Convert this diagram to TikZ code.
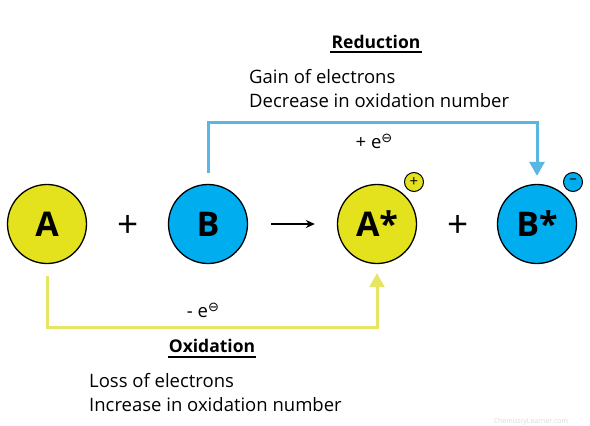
\documentclass[tikz,border=0pt]{standalone}
\usepackage{fontspec}
\setmainfont{Open Sans}
\newfontfamily\symfont{DejaVu Sans}
\usetikzlibrary{arrows.meta}
\definecolor{molyellow}{RGB}{228,226,28}
\definecolor{molblue}{RGB}{0,174,239}
\definecolor{redcolor}{RGB}{90,182,226}
\definecolor{oxcolor}{RGB}{230,229,100}
\newcommand{\elec}{e\raisebox{6pt}{\symfont\fontsize{13}{13}\selectfont ⊖}}
\begin{document}
\begin{tikzpicture}[x=1pt,y=-1pt]

      \useasboundingbox (0,0) rectangle (590,426);

      \begin{scope}[every node/.style={circle,draw,line width=1.3pt,minimum size=79pt,inner sep=0pt,font=\fontsize{34}{34}\selectfont\bfseries}]
        \node[fill=molyellow] (A)  at (47,224)  {A};
        \node[fill=molblue]   (B)  at (208,224) {B};
        \node[fill=molyellow] (As) at (377,224) {A*};
        \node[fill=molblue]   (Bs) at (537,224) {B*};
      \end{scope}

      \begin{scope}[every node/.style={circle,draw,line width=1pt,minimum size=19pt,inner sep=0pt,font=\fontsize{15}{15}\selectfont}]
        \node[fill=molyellow] (pos) at (414,182) {+};
        \node[fill=molblue]   (neg) at (573,182) {\raisebox{1pt}{–}};
      \end{scope}

      \begin{scope}[every node/.style={font=\fontsize{37}{37}\selectfont}]
        \node (plus1) at (128,226) {+};
        \node (plus2) at (458,226) {+};
      \end{scope}

      \begin{scope}[every node/.style={font=\fontsize{18.5}{24}\selectfont}]
        \node[anchor=base,font=\fontsize{17.5}{24}\selectfont\bfseries,inner sep=1pt] (red) at (376,48) {Reduction};
        \node[anchor=base west,inner sep=0pt] (gain) at (249,83)  {Gain of electrons};
        \node[anchor=base west,inner sep=0pt] (decr) at (249,107) {Decrease in oxidation number};
        \node[anchor=base,inner sep=0pt] (plus e) at (374,148) {+ \elec};
        \node[anchor=base,inner sep=0pt] (minus e) at (203,317) {- \elec};
        \node[anchor=base,font=\fontsize{17.5}{24}\selectfont\bfseries,inner sep=1pt] (ox) at (212,352) {Oxidation};
        \node[anchor=base west,inner sep=0pt] (loss) at (89,387) {Loss of electrons};
        \node[anchor=base west,inner sep=0pt] (incr) at (89,411) {Increase in oxidation number};
      \end{scope}

      \node[text=gray!30,font=\fontsize{7}{7}\selectfont] (mark) at (531,422) {ChemistryLearner.com};

      \draw[line width=2pt] ([yshift=-4pt]red.base west) -- ([yshift=-4pt]red.base east);
      \draw[line width=2pt] ([yshift=-5pt]ox.base west) -- ([yshift=-5pt]ox.base east);

      \begin{scope}[every edge/.style={draw,line width=3pt}]
        \path (B.north) edge[redcolor,-{Triangle[length=14pt,width=15pt]},shorten <=11pt,shorten >=8pt,
              to path={-- ++(0,-61) -| (\tikztotarget)}] (Bs.north);
        \path (A.south) edge[oxcolor,-{Triangle[length=14pt,width=15pt]},shorten <=12pt,shorten >=9pt,
              to path={-- ++(0,63) -| (\tikztotarget)}] (As.south);
        \path (B) edge[black,line width=1.5pt,-{Stealth[length=9pt,width=8pt]},shorten <=23pt,shorten >=22pt] (As);
      \end{scope}

    \end{tikzpicture}
\end{document}
